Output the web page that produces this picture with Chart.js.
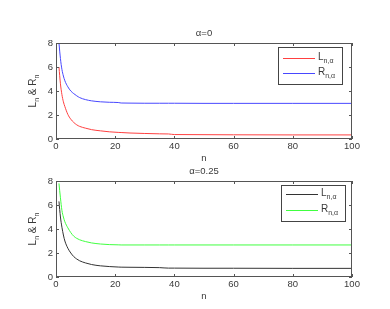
<!DOCTYPE html>
<html><head><meta charset="utf-8">
<script src="https://cdn.jsdelivr.net/npm/chart.js@4.4.0/dist/chart.umd.min.js"></script>
<style>
html,body{margin:0;padding:0;background:#fff;overflow:hidden}
#wrap{position:relative;width:390px;height:309px;background:#fff}
canvas{position:absolute;left:0;top:0}
</style></head>
<body><div id="wrap"><canvas id="c1" width="390" height="309"></canvas><canvas id="c2" width="390" height="309"></canvas></div>
<script>
// ---- data ----
const nValues = [1, 1.5, 2, 2.5, 3, 4, 5, 6, 7, 8, 10, 12, 15, 18, 21, 22, 25, 30, 35, 38, 40, 50, 60, 80, 100];
const L_alpha0 = [6.0, 4.6, 3.7, 3.1, 2.7, 2.05, 1.65, 1.38, 1.18, 1.05, 0.9, 0.78, 0.68, 0.6, 0.55, 0.54, 0.5, 0.46, 0.43, 0.42, 0.37, 0.36, 0.35, 0.34, 0.34];
const R_alpha0 = [8.0, 6.7, 5.8, 5.25, 4.85, 4.35, 4.0, 3.78, 3.6, 3.45, 3.28, 3.18, 3.1, 3.06, 3.04, 3.0, 2.99, 2.98, 2.98, 2.98, 2.98, 2.97, 2.97, 2.97, 2.97];
const L_alpha025 = [6.3, 5.0, 4.15, 3.5, 3.0, 2.4, 2.0, 1.7, 1.5, 1.35, 1.17, 1.04, 0.93, 0.87, 0.83, 0.82, 0.81, 0.8, 0.78, 0.74, 0.74, 0.73, 0.73, 0.72, 0.72];
const R_alpha025 = [7.8, 6.6, 5.55, 5.0, 4.6, 4.1, 3.7, 3.4, 3.22, 3.1, 2.95, 2.84, 2.75, 2.7, 2.68, 2.67, 2.67, 2.67, 2.67, 2.67, 2.67, 2.67, 2.67, 2.67, 2.67];
const xTicks = [0, 20, 40, 60, 80, 100];
const yTicks = [0, 2, 4, 6, 8];
const titles = ['\u03b1=0', '\u03b1=0.25'];

const FONT = '"Liberation Sans", Arial, Helvetica, sans-serif';
const TXT = '#3a3a3a';
const AXC = '#555';

function pts(ys){ return nValues.map((n,i)=>({x:n, y:ys[i]})); }

const decor = {
  id: 'decor',
  afterDatasetsDraw(chart, args, o) {
    const {ctx, chartArea: a, scales} = chart;
    const xs = scales.x, ys = scales.y;
    ctx.save();
    // box
    ctx.strokeStyle = AXC; ctx.lineWidth = 1;
    ctx.strokeRect(Math.round(a.left)+0.5, Math.round(a.top)+0.5, Math.round(a.right-a.left)-1, Math.round(a.bottom-a.top)-1);
    // inner ticks
    ctx.beginPath();
    xTicks.forEach(v => { const px = Math.round(xs.getPixelForValue(v))+0.5;
      ctx.moveTo(px, a.bottom); ctx.lineTo(px, a.bottom-3);
      ctx.moveTo(px, a.top); ctx.lineTo(px, a.top+3); });
    yTicks.forEach(v => { const py = Math.round(ys.getPixelForValue(v))+0.5;
      ctx.moveTo(a.left, py); ctx.lineTo(a.left+3, py);
      ctx.moveTo(a.right, py); ctx.lineTo(a.right-3, py); });
    ctx.stroke();
    // title
    ctx.fillStyle = TXT;
    ctx.font = '9.5px ' + FONT;
    ctx.textAlign = 'center'; ctx.textBaseline = 'middle';
    ctx.fillText(o.title, (a.left+a.right)/2, a.top - 10);
    // x label
    ctx.fillText('n', (a.left+a.right)/2, a.bottom + 19);
    // y label rotated with subscripts
    ctx.save();
    ctx.translate(a.left - 23, (a.top+a.bottom)/2);
    ctx.rotate(-Math.PI/2);
    const parts = [['L',0],['n',1],[' & R',0],['n',1]];
    let w = 0;
    parts.forEach(p => { ctx.font = (p[1]?'7px ':'10px ') + FONT; w += ctx.measureText(p[0]).width; });
    let x = -w/2;
    ctx.textAlign = 'left'; ctx.textBaseline = 'alphabetic';
    parts.forEach(p => { ctx.font = (p[1]?'7px ':'10px ') + FONT; ctx.fillText(p[0], x, p[1]?6:3); x += ctx.measureText(p[0]).width; });
    ctx.restore();
    // legend
    const L = o.legend;
    ctx.fillStyle = '#fff';
    ctx.fillRect(L.x, L.y, L.w, L.h);
    ctx.strokeStyle = '#444';
    ctx.strokeRect(L.x+0.5, L.y+0.5, L.w, L.h);
    chart.data.datasets.forEach((ds, i) => {
      const ly = L.y + L.row0 + i*L.rowH;
      ctx.strokeStyle = ds.borderColor; ctx.lineWidth = 1;
      ctx.beginPath(); ctx.moveTo(L.x + 5, ly+0.5); ctx.lineTo(L.x + 5 + L.line, ly+0.5); ctx.stroke();
      ctx.fillStyle = TXT; ctx.textAlign = 'left'; ctx.textBaseline = 'alphabetic';
      const tx = L.x + 8 + L.line;
      ctx.font = '10px ' + FONT; ctx.fillText(ds.label, tx, ly + 2);
      const lw = ctx.measureText(ds.label).width;
      ctx.font = '7px ' + FONT; ctx.fillText('n,\u03b1', tx + lw, ly + 5);
    });
    ctx.restore();
  }
};

function makeChart(id, top, bottomPad, dsL, dsR, colL, colR, title, legend) {
  return new Chart(document.getElementById(id), {
    type: 'line',
    data: { datasets: [
      { label: 'L', data: pts(dsL), borderColor: colL, borderWidth: 1, pointRadius: 0, cubicInterpolationMode: 'monotone', fill: false },
      { label: 'R', data: pts(dsR), borderColor: colR, borderWidth: 1, pointRadius: 0, cubicInterpolationMode: 'monotone', fill: false }
    ]},
    options: {
      responsive: false, animation: false, devicePixelRatio: 1,
      layout: { padding: { left: 0, right: 38, top: top, bottom: bottomPad } },
      plugins: { legend: { display: false }, tooltip: { enabled: false }, title: { display: false }, decor: { title, legend } },
      scales: {
        x: { type: 'linear', min: 0, max: 100,
             afterFit: s => { s.height = 20; },
             afterBuildTicks: s => { s.ticks = xTicks.map(v => ({value: v})); },
             grid: { display: false, drawTicks: false }, border: { display: false },
             ticks: { color: TXT, font: { family: FONT, size: 9.5 }, padding: 2, maxRotation: 0, autoSkip: false } },
        y: { type: 'linear', min: 0, max: 8,
             afterFit: s => { s.width = 56; },
             afterBuildTicks: s => { s.ticks = yTicks.map(v => ({value: v})); },
             grid: { display: false, drawTicks: false }, border: { display: false },
             ticks: { color: TXT, font: { family: FONT, size: 9.5 }, padding: 3 } }
      }
    },
    plugins: [decor]
  });
}

makeChart('c1', 43, 309 - 139 - 20, L_alpha0, R_alpha0, '#ff4040', '#4848ff', titles[0],
  { x: 278, y: 47, w: 64, h: 37, row0: 11, rowH: 15, line: 32 });
makeChart('c2', 181, 309 - 277 - 20, L_alpha025, R_alpha025, '#333333', '#40ff40', titles[1],
  { x: 281, y: 185, w: 64, h: 36, row0: 9, rowH: 16, line: 32 });
</script>
</body></html>
